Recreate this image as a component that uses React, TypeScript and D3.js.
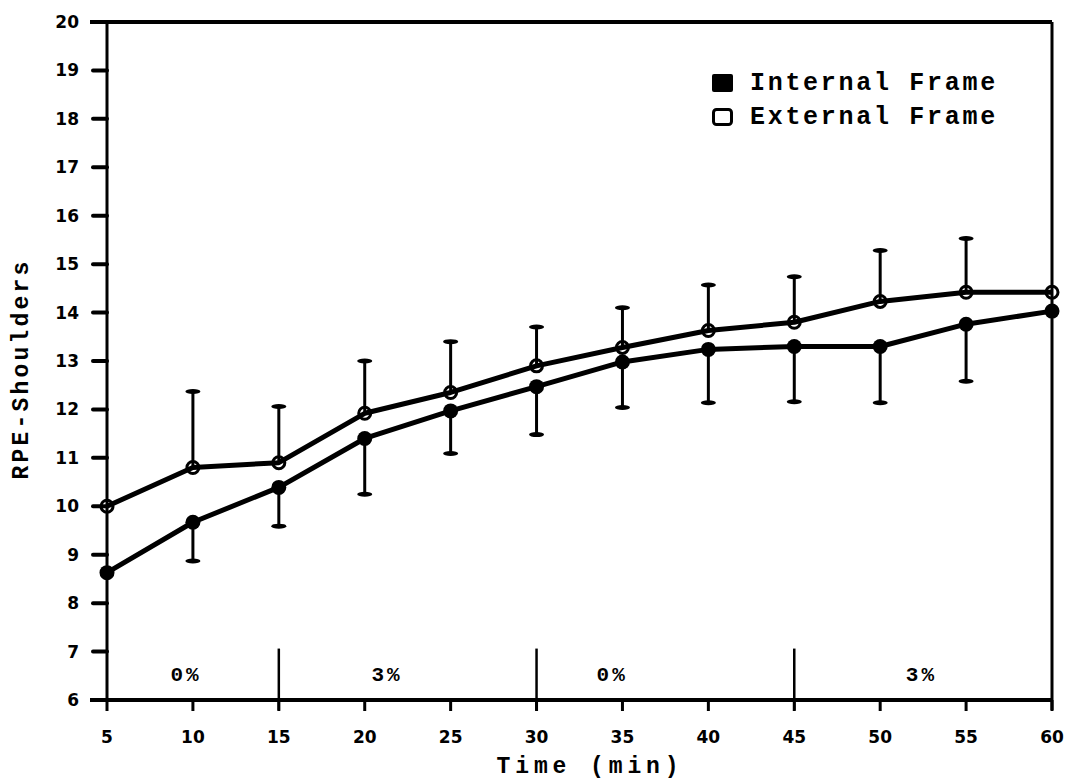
import React from "react";
import * as d3 from "d3";

const times = [5, 10, 15, 20, 25, 30, 35, 40, 45, 50, 55, 60];
const internalMean = [8.63, 9.67, 10.39, 11.4, 11.97, 12.47, 12.98, 13.24, 13.3, 13.3, 13.76, 14.03];
const internalLow = [null, 8.87, 9.59, 10.25, 11.09, 11.48, 12.04, 12.14, 12.16, 12.14, 12.58, null];
const externalMean = [10.0, 10.8, 10.9, 11.92, 12.35, 12.9, 13.28, 13.63, 13.8, 14.23, 14.42, 14.42];
const externalHigh = [null, 12.37, 12.06, 13.0, 13.4, 13.7, 14.1, 14.57, 14.74, 15.28, 15.53, null];
const yTicks = [6, 7, 8, 9, 10, 11, 12, 13, 14, 15, 16, 17, 18, 19, 20];
const xTicks = [5, 10, 15, 20, 25, 30, 35, 40, 45, 50, 55, 60];
const dividers = [15, 30, 45];
const gradeLabels = ["0%", "3%", "0%", "3%"];
const gradeLabelX = [9.6, 21.3, 34.4, 52.4];
const legendNames = ["Internal Frame", "External Frame"];

const W = 1067;
const H = 781;

export default function App() {
  const x = d3.scaleLinear().domain([5, 60]).range([107, 1052]);
  const y = d3.scaleLinear().domain([6, 20]).range([700, 22]);
  const line = d3
    .line<number>()
    .x((_, i) => x(times[i]))
    .y((d) => y(d));
  const numFont = "'DejaVu Sans', sans-serif";
  const mono = "'Liberation Mono', 'DejaVu Sans Mono', monospace";
  const y7 = y(7);
  const y6 = y(6);
  return (
    <svg
      width={W}
      height={H}
      style={{ position: "absolute", left: 0, top: 0, background: "#fff" }}
    >
      <rect x={0} y={0} width={W} height={H} fill="#fff" />
      {/* frame */}
      <line x1={90} x2={x(60)} y1={y(20)} y2={y(20)} stroke="#000" strokeWidth={4} />
      <line x1={x(5)} x2={x(5)} y1={y(20)} y2={y6} stroke="#000" strokeWidth={3} />
      <line x1={x(60)} x2={x(60)} y1={y(20)} y2={y6 + 10} stroke="#000" strokeWidth={3} />
      <line x1={90} x2={x(60)} y1={y6} y2={y6} stroke="#000" strokeWidth={4} />
      {/* y ticks */}
      {yTicks.map((t) => (
        <g key={"y" + t}>
          <line x1={93} x2={x(5)} y1={y(t)} y2={y(t)} stroke="#000" strokeWidth={4} strokeLinecap="round" />
          <text
            x={79}
            y={y(t)}
            textAnchor="end"
            dominantBaseline="central"
            fontFamily={numFont}
            fontWeight="bold"
            fontSize={17}
          >
            {t}
          </text>
        </g>
      ))}
      {/* x ticks */}
      {xTicks.map((t) => (
        <g key={"x" + t}>
          <line x1={x(t)} x2={x(t)} y1={y6} y2={y6 + 11} stroke="#000" strokeWidth={3} />
          <text
            x={x(t)}
            y={737}
            textAnchor="middle"
            dominantBaseline="central"
            fontFamily={numFont}
            fontWeight="bold"
            fontSize={17}
          >
            {t}
          </text>
        </g>
      ))}
      {dividers.map((t) => (
        <line key={"d" + t} x1={x(t)} x2={x(t)} y1={y7 - 3} y2={y6 + 10} stroke="#000" strokeWidth={2.5} />
      ))}
      {gradeLabels.map((g, i) => (
        <text
          key={"g" + i}
          x={x(gradeLabelX[i])}
          y={675}
          textAnchor="middle"
          dominantBaseline="central"
          fontFamily={mono}
          fontWeight="bold"
          fontSize={21}
          letterSpacing={3}
        >
          {g}
        </text>
      ))}
      {/* error bars */}
      {times.map((t, i) =>
        externalHigh[i] == null ? null : (
          <g key={"ee" + t}>
            <line x1={x(t)} x2={x(t)} y1={y(externalMean[i])} y2={y(externalHigh[i] as number)} stroke="#000" strokeWidth={3} />
            <ellipse cx={x(t)} cy={y(externalHigh[i] as number)} rx={7.5} ry={2.5} fill="#000" />
          </g>
        )
      )}
      {times.map((t, i) =>
        internalLow[i] == null ? null : (
          <g key={"ie" + t}>
            <line x1={x(t)} x2={x(t)} y1={y(internalMean[i])} y2={y(internalLow[i] as number)} stroke="#000" strokeWidth={3} />
            <ellipse cx={x(t)} cy={y(internalLow[i] as number)} rx={7.5} ry={2.5} fill="#000" />
          </g>
        )
      )}
      {/* lines */}
      <path d={line(externalMean) || ""} fill="none" stroke="#000" strokeWidth={5} strokeLinejoin="round" />
      <path d={line(internalMean) || ""} fill="none" stroke="#000" strokeWidth={5} strokeLinejoin="round" />
      {/* markers */}
      {times.map((t, i) => (
        <circle key={"em" + t} cx={x(t)} cy={y(externalMean[i])} r={6} fill="none" stroke="#000" strokeWidth={3} />
      ))}
      {times.map((t, i) => (
        <circle key={"im" + t} cx={x(t)} cy={y(internalMean[i])} r={7.5} fill="#000" />
      ))}
      {/* legend */}
      <rect x={712} y={74} width={21} height={18} fill="#000" rx={2} />
      <rect x={713.5} y={109.5} width={18} height={15} fill="none" stroke="#000" strokeWidth={3} rx={3} />
      {legendNames.map((n, i) => (
        <text
          key={n}
          x={750}
          y={83 + i * 34}
          dominantBaseline="central"
          fontFamily={mono}
          fontWeight="bold"
          fontSize={25}
          letterSpacing={2.7}
        >
          {n}
        </text>
      ))}
      {/* axis titles */}
      <text
        x={590}
        y={767}
        textAnchor="middle"
        dominantBaseline="central"
        fontFamily={mono}
        fontWeight="bold"
        fontSize={23}
        letterSpacing={4.9}
      >
        Time (min)
      </text>
      <text
        transform={`translate(22,${369}) rotate(-90)`}
        textAnchor="middle"
        dominantBaseline="central"
        fontFamily={mono}
        fontWeight="bold"
        fontSize={23}
        letterSpacing={3.2}
      >
        RPE-Shoulders
      </text>
    </svg>
  );
}
